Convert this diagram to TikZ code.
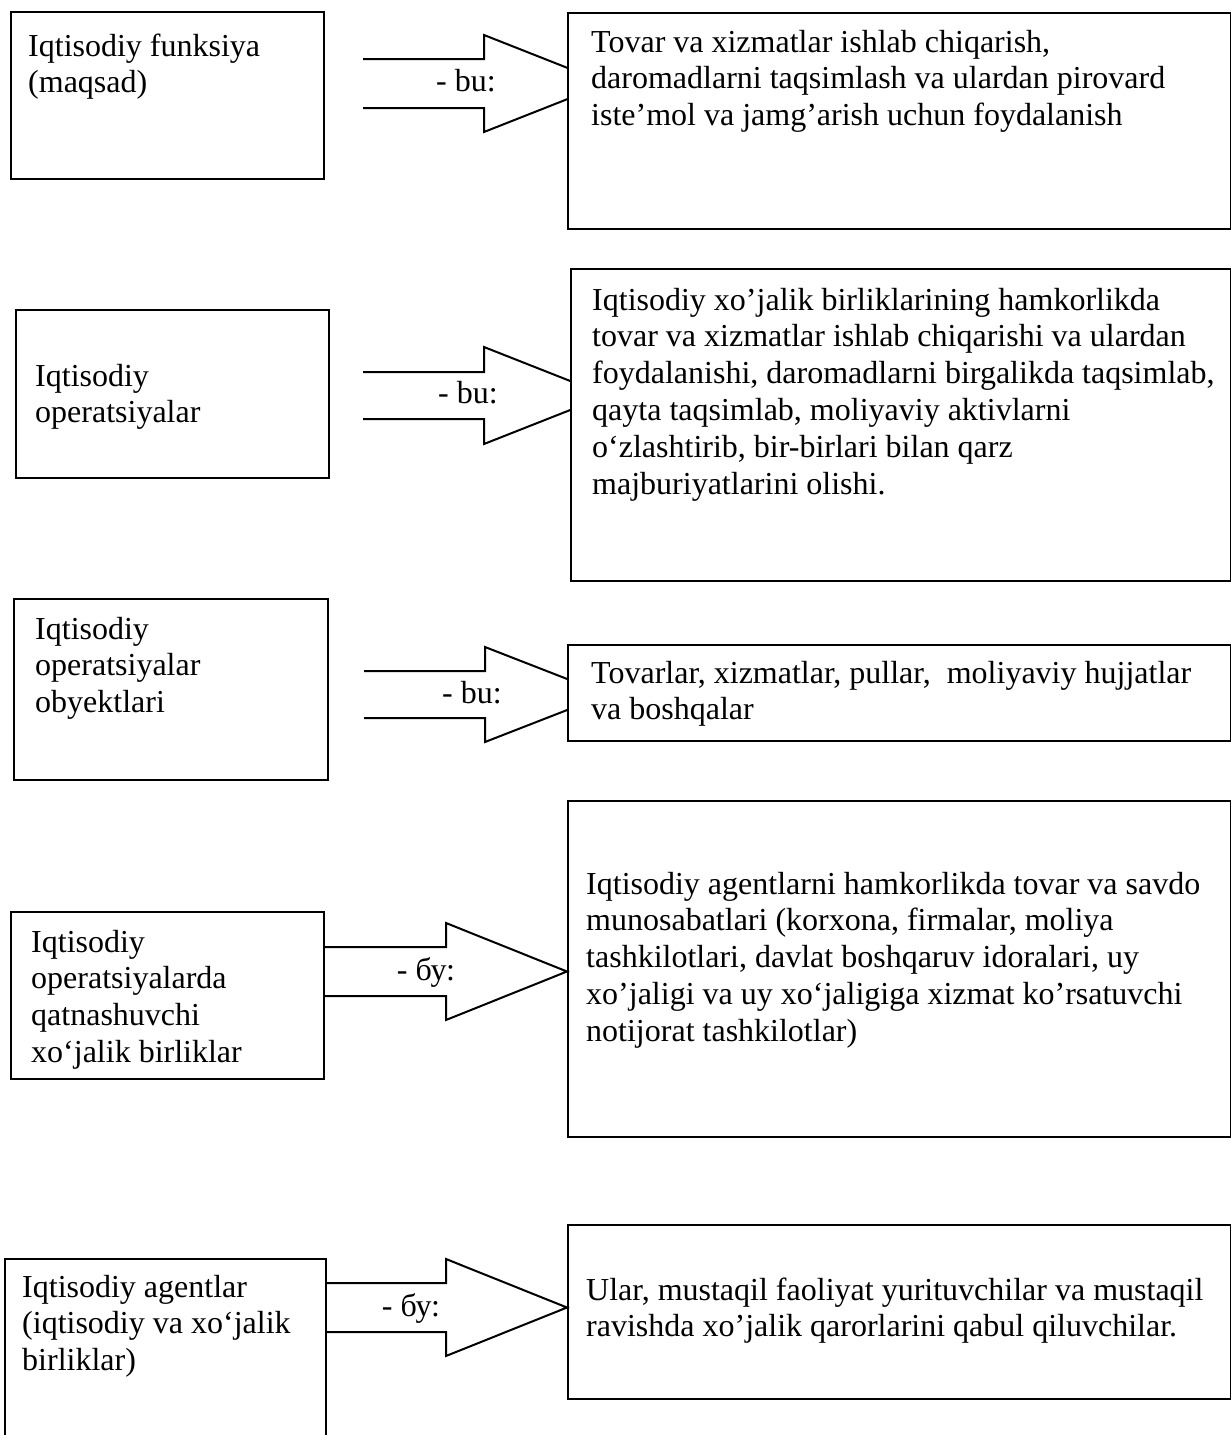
\documentclass[tikz,border=0pt]{standalone}
\usepackage{fontspec}
\setmainfont{Liberation Serif}
\begin{document}
\begin{tikzpicture}[x=1pt,y=-1pt,
  box/.style={draw, line width=2pt, fill=white, anchor=north west, inner sep=0pt},
  txt/.style={anchor=north west, inner sep=0pt, align=left, font=\fontsize{32}{36.8}\selectfont},
  lbl/.style={anchor=base, inner sep=0pt, font=\fontsize{32}{36.8}\selectfont},
  barrow/.style={draw, line width=2pt, line join=miter}]
\useasboundingbox (0,0) rectangle (1231,1435);
\fill[white] (0,0) rectangle (1231,1435);

% ---------- block arrows ----------
\coordinate (a1) at (363,59);
\draw[barrow] (a1) -- (484,59) -- (484,35) -- (607,83.5) -- (484,132) -- (484,108) -- (363,108);
\coordinate (a2) at (363,372);
\draw[barrow] (a2) -- (484,372) -- (484,347) -- (607,395.5) -- (484,444) -- (484,419) -- (363,419);
\coordinate (a3) at (364,671);
\draw[barrow] (a3) -- (485,671) -- (485,647) -- (607,694.5) -- (485,742) -- (485,718) -- (364,718);

% ---------- left boxes ----------
\node[box, minimum width=313pt, minimum height=167pt] (L1) at (10,11) {};
\node[box, minimum width=313pt, minimum height=168pt] (L2) at (15,309) {};
\node[box, minimum width=314pt, minimum height=181pt] (L3) at (13,598) {};
\node[box, minimum width=313pt, minimum height=167pt] (L4) at (10,911) {};
\node[box, minimum width=321pt, minimum height=180pt] (L5) at (4,1258) {};

% ---------- right boxes ----------
\node[box, minimum width=663pt, minimum height=216pt] (R1) at (567,12) {};
\node[box, minimum width=660pt, minimum height=312pt] (R2) at (570,268) {};
\node[box, minimum width=663pt, minimum height=96pt] (R3) at (567,644) {};
\node[box, minimum width=663pt, minimum height=336pt] (R4) at (567,800) {};
\node[box, minimum width=663pt, minimum height=174pt] (R5) at (567,1224) {};

% arrows rows 4 and 5 (from left box edge to right box edge)
\draw[barrow] (L4.east |- 0,947) -- (446,947) -- (446,923) -- (R4.west |- 0,971.5) -- (446,1020) -- (446,996) -- (L4.east |- 0,996);
\draw[barrow] (L5.east |- 0,1283) -- (446,1283) -- (446,1259) -- (R5.west |- 0,1307.5) -- (446,1356) -- (446,1332) -- (L5.east |- 0,1332);

% ---------- labels ----------
\node[lbl] (b1) at (466,91.5) {- bu:};
\node[lbl] (b2) at (468,403) {- bu:};
\node[lbl] (b3) at (472,703) {- bu:};
\node[lbl] (b4) at (426,980) {- бу:};
\node[lbl] (b5) at (411,1316) {- бу:};

% ---------- texts ----------
\node[txt] (tL1) at (28,30.2) {\strut Iqtisodiy funksiya\\(maqsad)};
\node[txt] (tR1) at (591,26.2) {\strut Tovar va xizmatlar ishlab chiqarish,\\daromadlarni taqsimlash va ulardan pirovard\\iste’mol va jamg’arish uchun foydalanish};
\node[txt] (tL2) at (35,360.2) {\strut Iqtisodiy\\operatsiyalar};
\node[txt] (tR2) at (592,284.2) {\strut Iqtisodiy xo’jalik birliklarining hamkorlikda\\tovar va xizmatlar ishlab chiqarishi va ulardan\\foydalanishi, daromadlarni birgalikda taqsimlab,\\qayta taqsimlab, moliyaviy aktivlarni\\o‘zlashtirib, bir-birlari bilan qarz\\majburiyatlarini olishi.};
\node[txt] (tL3) at (35,613.2) {\strut Iqtisodiy\\operatsiyalar\\obyektlari};
\node[txt] (tR3) at (591,657.2) {\strut Tovarlar, xizmatlar, pullar,\ \ moliyaviy hujjatlar\\va boshqalar};
\node[txt] (tL4) at (31,926.2) {\strut Iqtisodiy\\operatsiyalarda\\qatnashuvchi\\xo‘jalik birliklar};
\node[txt] (tR4) at (586,868.2) {\strut Iqtisodiy agentlarni hamkorlikda tovar va savdo\\munosabatlari (korxona, firmalar, moliya\\tashkilotlari, davlat boshqaruv idoralari, uy\\xo’jaligi va uy xo‘jaligiga xizmat ko’rsatuvchi\\notijorat tashkilotlar)};
\node[txt] (tL5) at (22,1271.2) {\strut Iqtisodiy agentlar\\(iqtisodiy va xo‘jalik\\birliklar)};
\node[txt] (tR5) at (586,1274.2) {\strut Ular, mustaqil faoliyat yurituvchilar va mustaqil\\ravishda xo’jalik qarorlarini qabul qiluvchilar.};
\end{tikzpicture}
\end{document}
